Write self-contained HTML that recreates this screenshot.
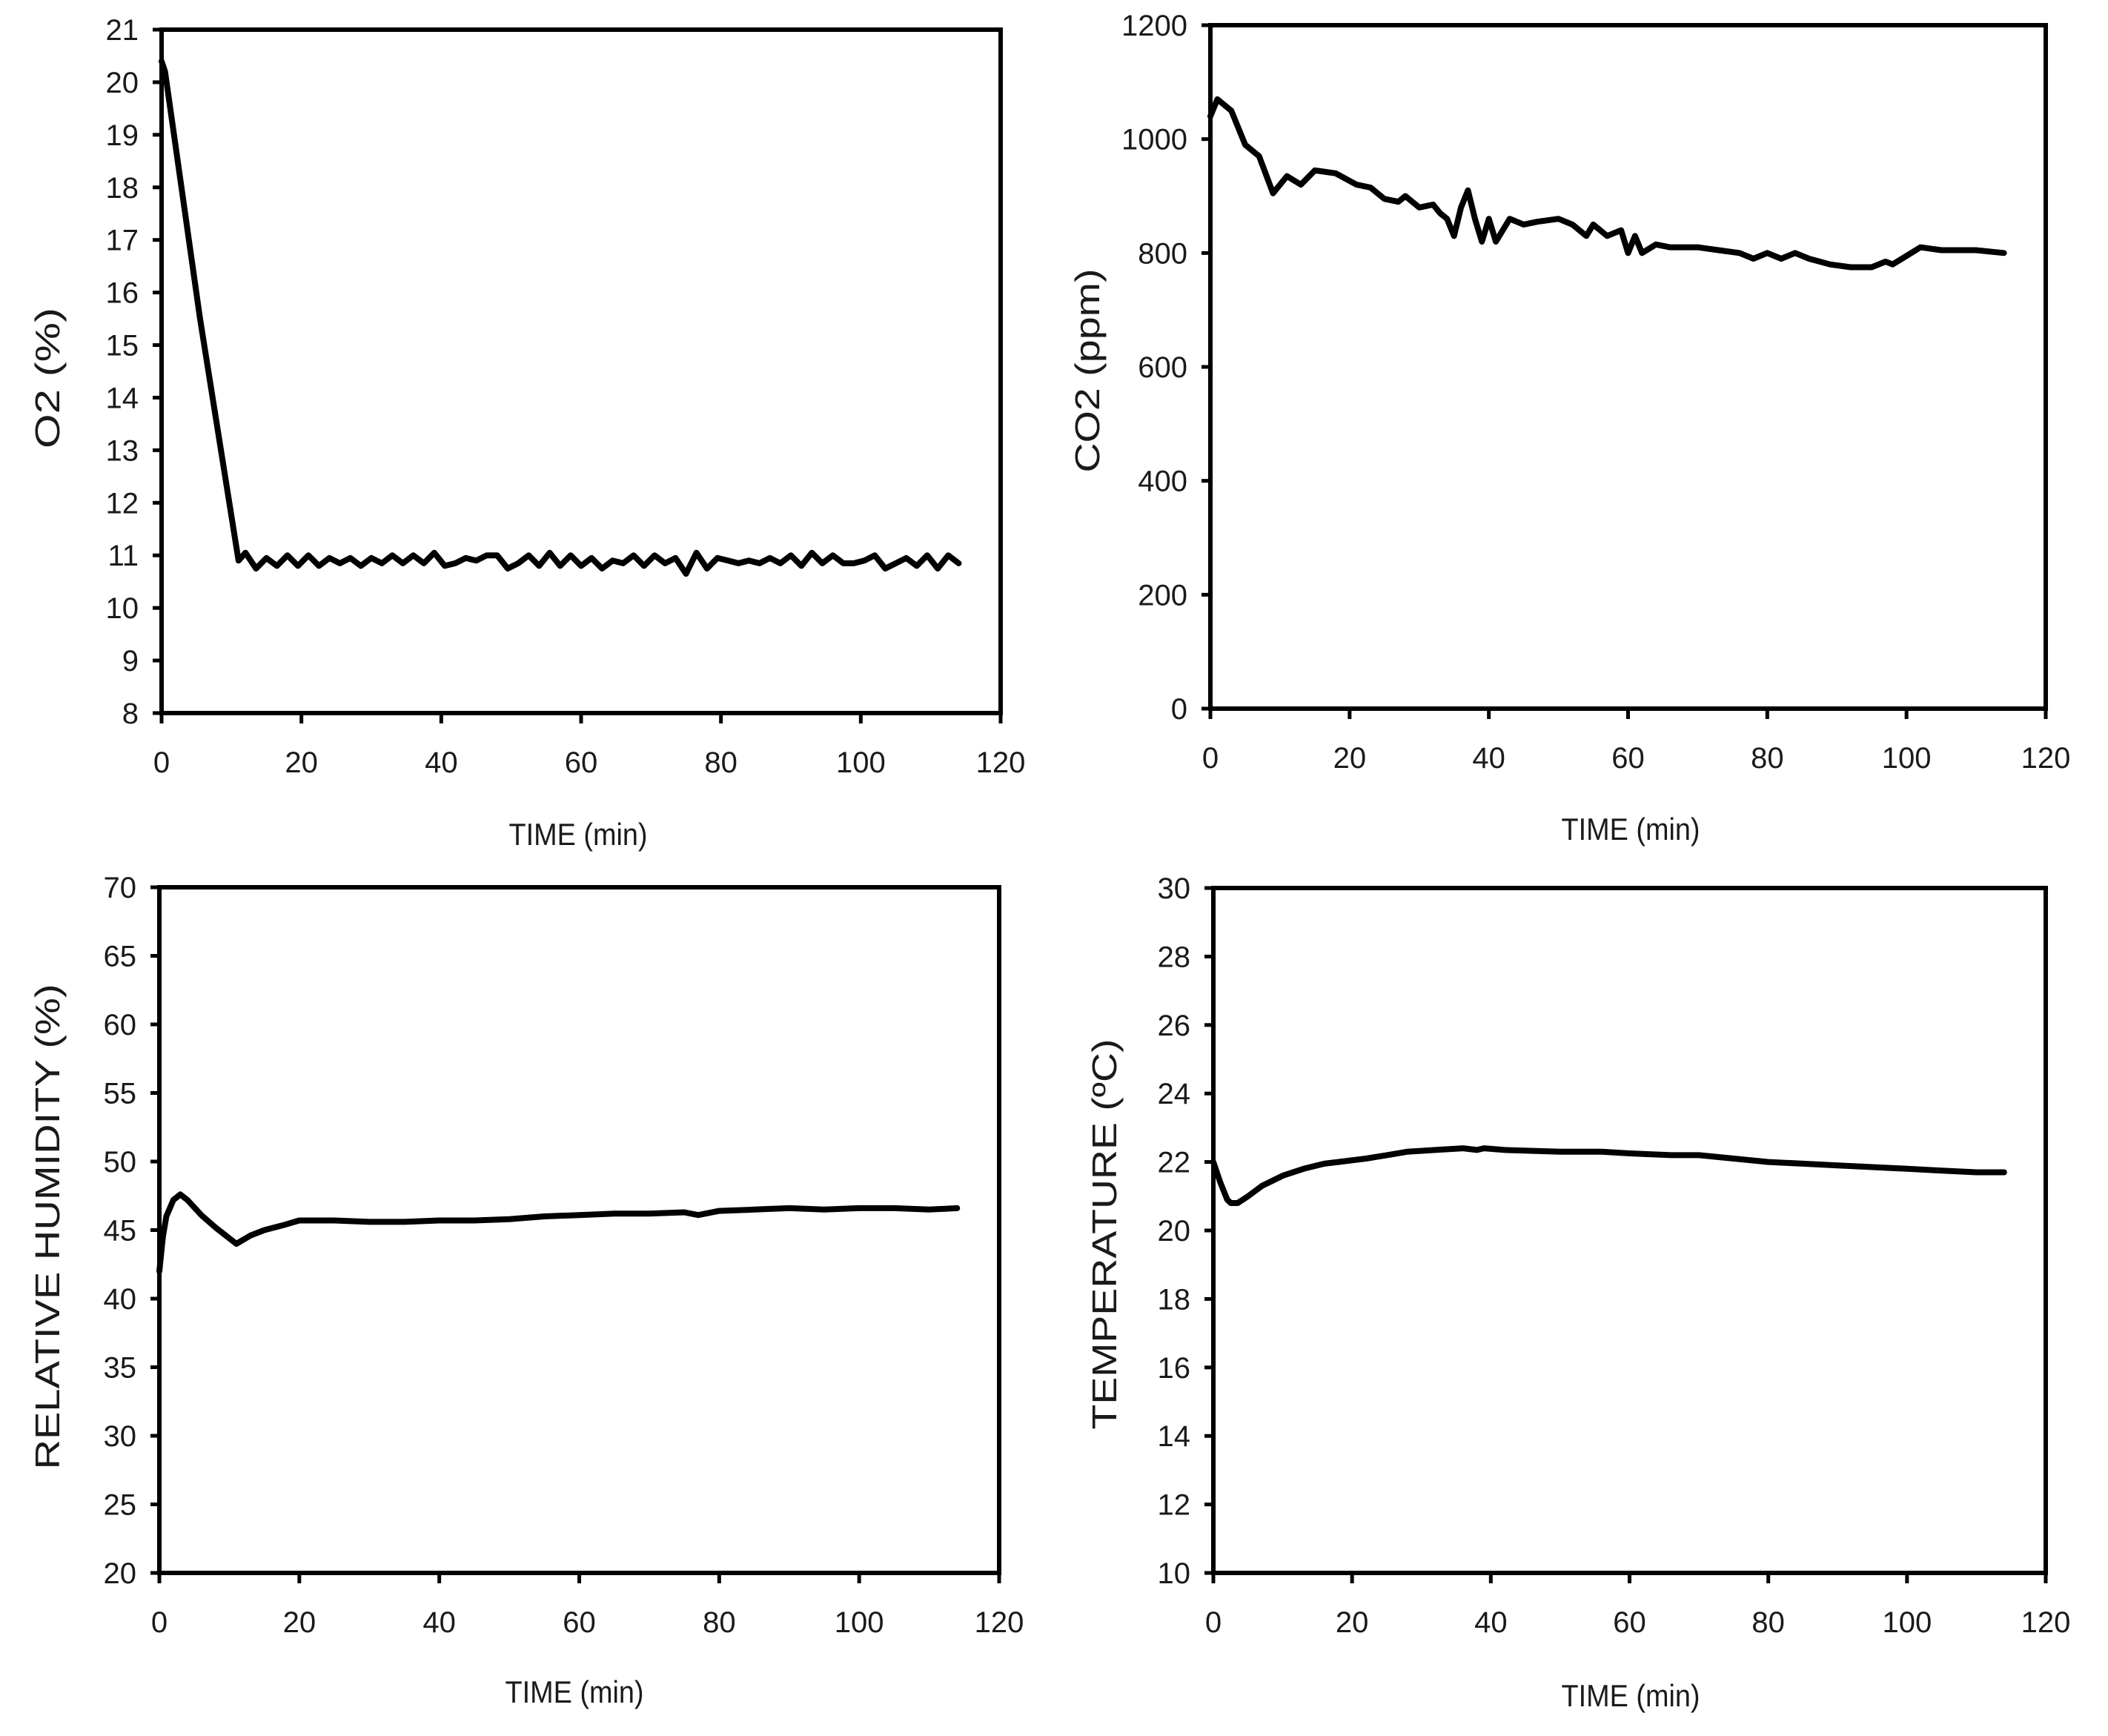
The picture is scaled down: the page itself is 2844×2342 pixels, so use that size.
<!DOCTYPE html>
<html>
<head>
<meta charset="utf-8">
<style>
  html, body { margin: 0; padding: 0; background: #fff; }
  svg { display: block; }
  text { font-family: "Liberation Sans", sans-serif; fill: #1a1a1a; }
</style>
</head>
<body>
<svg id="chart" width="2844" height="2342" viewBox="0 0 2844 2342" xmlns="http://www.w3.org/2000/svg">
  <rect x="0" y="0" width="2844" height="2342" fill="#fff"/>
</svg>
<script>
// ---- shared x tick data ----
const xTicks = [0, 20, 40, 60, 80, 100, 120];

// ---- O2 panel ----
const o2Time = [0,0.5,5.5,11,12,13.5,15,16.5,18,19.5,21,22.5,24,25.5,27,28.5,30,31.5,33,34.5,36,37.5,39,40.5,42,43.5,45,46.5,48,49.5,51,52.5,54,55.5,57,58.5,60,61.5,63,64.5,66,67.5,69,70.5,72,73.5,75,76.5,78,79.5,81,82.5,84,85.5,87,88.5,90,91.5,93,94.5,96,97.5,99,100.5,102,103.5,105,106.5,108,109.5,111,112.5,114];
const o2Values = [20.4,20.2,15.5,10.9,11.05,10.75,10.95,10.8,11.0,10.8,
  11.0,10.8,10.95,10.85,10.95,10.8,10.95,10.85,11.0,10.85,
  11.0,10.85,11.05,10.8,10.85,10.95,10.9,11.0,11.0,10.75,
  10.85,11.0,10.8,11.05,10.8,11.0,10.8,10.95,10.75,10.9,
  10.85,11.0,10.8,11.0,10.85,10.95,10.65,11.05,10.75,10.95,
  10.9,10.85,10.9,10.85,10.95,10.85,11.0,10.8,11.05,10.85,
  11.0,10.85,10.85,10.9,11.0,10.75,10.85,10.95,10.8,11.0,
  10.75,11.0,10.85];
const o2Ticks = [8,9,10,11,12,13,14,15,16,17,18,19,20,21];

// ---- CO2 panel ----
const co2Time = [0,1,3,5,7,9,11,13,15,18,21,23,25,27,28,30,32,33,34,35,36,37,38,39,40,41,43,45,47,50,52,54,55,57,59,60,61,62,64,66,70,73,76,78,80,82,84,86,89,92,95,97,98,100,102,105,110,114];
const co2Values = [1040,1070,1050,990,970,905,935,920,945,940,920,915,895,890,900,880,885,870,860,830,880,910,860,820,860,820,860,850,855,860,850,830,850,830,840,800,830,800,815,810,810,805,800,790,800,790,800,790,780,775,775,785,780,795,810,805,805,800];
const co2Ticks = [0,200,400,600,800,1000,1200];

// ---- Relative humidity panel ----
const rhTime = [0,0.5,1,2,3,4,6,8,11,13,15,18,20,25,30,35,40,45,50,55,60,65,70,75,77,80,85,90,95,100,105,110,114];
const rhValues = [42,44.5,46,47.2,47.6,47.2,46.1,45.2,44.0,44.6,45.0,45.4,45.7,45.7,45.6,45.6,45.7,45.7,45.8,46.0,46.1,46.2,46.2,46.3,46.1,46.4,46.5,46.6,46.5,46.6,46.6,46.5,46.6];
const rhTicks = [20,25,30,35,40,45,50,55,60,65,70];

// ---- Temperature panel ----
const tempTime = [0,1,2,2.5,3.5,5,7,10,13,16,18,22,25,28,32,36,38,39,42,50,56,60,66,70,75,80,85,90,95,100,105,110,114];
const tempValues = [22.0,21.4,20.9,20.8,20.8,21.0,21.3,21.6,21.8,21.95,22.0,22.1,22.2,22.3,22.35,22.4,22.35,22.4,22.35,22.3,22.3,22.25,22.2,22.2,22.1,22.0,21.95,21.9,21.85,21.8,21.75,21.7,21.7];
const tempTicks = [10,12,14,16,18,20,22,24,26,28,30];

const svg = document.getElementById('chart');
const NS = 'http://www.w3.org/2000/svg';

function mk(tag, attrs, parent) {
  const e = document.createElementNS(NS, tag);
  for (const k in attrs) e.setAttribute(k, attrs[k]);
  parent.appendChild(e);
  return e;
}

function panel(p) {
  const g = mk('g', {}, svg);
  
  
  const xs = v => p.x0 + (v - 0) / 120 * (p.x1 - p.x0);
  const ys = v => p.y1 - (v - p.ymin) / (p.ymax - p.ymin) * (p.y1 - p.y0);

  const frame = mk('rect', {x: p.x0, y: p.y0, width: p.x1 - p.x0, height: p.y1 - p.y0, fill: 'none', stroke: '#000', 'stroke-width': 6}, g);
  
  

  p.yt.forEach(v => {
    const y = ys(v);
    const t = mk('line', {x1: p.x0 - 12, x2: p.x0, y1: y, y2: y, stroke: '#000', 'stroke-width': 5}, g);
    
    
    const l = mk('text', {x: p.x0 - 31, y: y + 14, 'font-size': 40, 'text-anchor': 'end'}, g);
    l.textContent = v;
    
    
  });
  xTicks.forEach(v => {
    const x = xs(v);
    const t = mk('line', {x1: x, x2: x, y1: p.y1, y2: p.y1 + 14, stroke: '#000', 'stroke-width': 5}, g);
    
    
    const l = mk('text', {x: x, y: p.y1 + 80, 'font-size': 40, 'text-anchor': 'middle'}, g);
    l.textContent = v;
    
    
  });
  const xt = mk('text', {x: p.xtx, y: p.xty, 'font-size': 42, 'text-anchor': 'middle', textLength: 187, lengthAdjust: 'spacingAndGlyphs'}, g);
  xt.textContent = 'TIME (min)';
  
  
  const yt = mk('text', {x: 0, y: 0, 'font-size': 46, 'text-anchor': 'middle', textLength: p.ytl, lengthAdjust: 'spacingAndGlyphs', transform: 'translate(' + (p.ytx + 16) + ',' + p.yty + ') rotate(-90)'}, g);
  yt.textContent = p.ytitle;
  
  
  let d = '';
  p.t.forEach((tv, i) => { d += (i ? 'L' : 'M') + xs(tv).toFixed(1) + ',' + ys(p.v[i]).toFixed(1); });
  const path = mk('path', {d: d, fill: 'none', stroke: '#000', 'stroke-width': 8, 'stroke-linejoin': 'round', 'stroke-linecap': 'round'}, g);
  
  
}

panel({name: 'o2-chart', series: 'o2-line', x0: 218, x1: 1350, y0: 40, y1: 962, ymin: 8, ymax: 21, yt: o2Ticks, t: o2Time, v: o2Values,
  xtx: 780, xty: 1140, ytitle: 'O2  (%)', ytx: 64, yty: 510, ytl: 190});
panel({name: 'co2-chart', series: 'co2-line', x0: 1633, x1: 2760, y0: 34, y1: 956, ymin: 0, ymax: 1200, yt: co2Ticks, t: co2Time, v: co2Values,
  xtx: 2200, xty: 1133, ytitle: 'CO2 (ppm)', ytx: 1467, yty: 500, ytl: 275});
panel({name: 'humidity-chart', series: 'humidity-line', x0: 215, x1: 1348, y0: 1197, y1: 2122, ymin: 20, ymax: 70, yt: rhTicks, t: rhTime, v: rhValues,
  xtx: 775, xty: 2297, ytitle: 'RELATIVE HUMIDITY  (%)', ytx: 64, yty: 1655, ytl: 655});
panel({name: 'temperature-chart', series: 'temperature-line', x0: 1637, x1: 2760, y0: 1198, y1: 2122, ymin: 10, ymax: 30, yt: tempTicks, t: tempTime, v: tempValues,
  xtx: 2200, xty: 2302, ytitle: 'TEMPERATURE  (ºC)', ytx: 1490, yty: 1665, ytl: 527});
</script>
</body>
</html>
